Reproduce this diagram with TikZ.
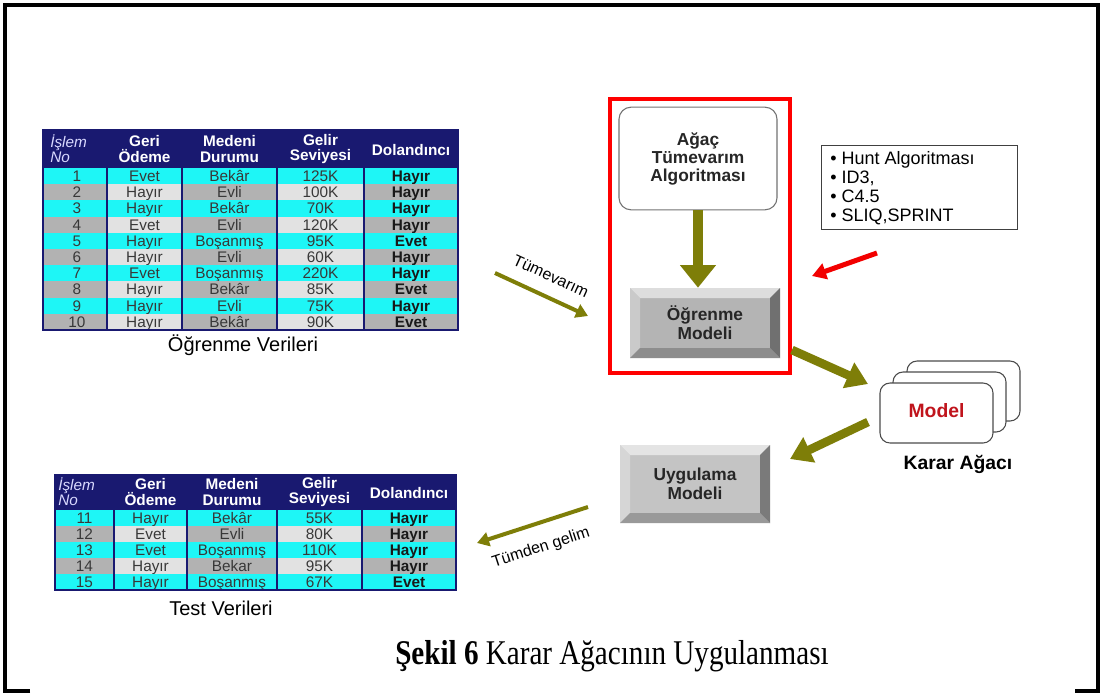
\documentclass[tikz,border=0pt]{standalone}
\usepackage{fontspec}
\usepackage{graphicx}
\setmainfont{Liberation Sans}
\newfontfamily\capfont{Liberation Serif}
\usetikzlibrary{arrows.meta}
\definecolor{hdr}{HTML}{191970}
\definecolor{cyn}{HTML}{1EF6F6}
\definecolor{dg}{HTML}{B2B2B2}
\definecolor{lg}{HTML}{E2E2E2}
\definecolor{olv}{HTML}{7E7E08}
\definecolor{ctext}{HTML}{383838}
\definecolor{mred}{HTML}{C0141C}
\definecolor{faceA}{HTML}{B4B4B4}
\definecolor{faceB}{HTML}{C4C4C4}
\tikzset{
  cell/.style={text=ctext, font=\fontsize{11.5}{12}\selectfont, inner sep=0pt, anchor=base},
  bcell/.style={text=black!90, font=\fontsize{11.5}{12}\bfseries\selectfont, inner sep=0pt, anchor=base},
  hcell/.style={text=white, font=\fontsize{11.5}{11.5}\bfseries\selectfont, align=center, inner sep=0pt},
  icell/.style={text=white!85!blue, font=\fontsize{11.5}{11.5}\itshape\selectfont, align=left, inner sep=0pt, anchor=west},
  grid/.style={draw=hdr, line width=0.8pt},
  bigarrow/.style={draw=olv, line width=6.5pt, -{Triangle[length=16pt,width=20pt]}},
  vertarrow/.style={draw=olv, line width=7pt, -{Triangle[length=17pt,width=26pt]}},
  thinarrow/.style={draw=olv, line width=3pt, -{Triangle[length=9pt,width=10.5pt]}},
  redarrow/.style={draw=red!95!black, line width=3.75pt, -{Triangle[length=10.5pt,width=12pt]}},
  btntext/.style={font=\fontsize{13}{14}\bfseries\selectfont, align=center, text=black!85, inner sep=0pt},
  card/.style={draw=black!70, fill=white, line width=0.8pt, rounded corners=7.5pt, minimum width=84.75pt, minimum height=45pt, inner sep=0pt},
  lbl/.style={font=\fontsize{15}{16}\selectfont, inner sep=0pt},
  arrlbl/.style={font=\fontsize{12}{13}\selectfont, inner sep=0pt}
}
\newcommand\bevbtn[8]{%
  \fill[#6] (#2,#3) rectangle (#4,#5);
  \fill[#6!45!white] (#2,#3) -- (#4,#3) -- ({#4-#7},{#3+#7}) -- ({#2+#7},{#3+#7}) -- cycle;
  \fill[#6!70!white] (#2,#3) -- ({#2+#7},{#3+#7}) -- ({#2+#7},{#5-#7}) -- (#2,#5) -- cycle;
  \fill[#6!62!black] (#4,#3) -- (#4,#5) -- ({#4-#7},{#5-#7}) -- ({#4-#7},{#3+#7}) -- cycle;
  \fill[#6!78!black] (#2,#5) -- (#4,#5) -- ({#4-#7},{#5-#7}) -- ({#2+#7},{#5-#7}) -- cycle;
  \node[btntext, minimum width={(#4-#2)*0.75pt}, minimum height={(#5-#3)*0.75pt}] (#1) at ({(#2+#4)/2},{(#3+#5)/2}) {#8};
}
\begin{document}
\begin{tikzpicture}[x=0.75pt,y=-0.75pt]
\useasboundingbox (0,0) rectangle (1104,697);
\fill[white] (0,0) rectangle (1104,697);
% frame
\draw[line width=2.3pt] (30,691) -- (5,691) -- (5,5) -- (1098,5) -- (1098,691) -- (1075,691);

% ---------- top table ----------
\fill[hdr] (43,130) rectangle (458,168);
\node[icell] (A-h1) at (50,149) {İşlem\\No};
\node[hcell] (A-h2) at (144.5,149) {Geri\\Ödeme};
\node[hcell] (A-h3) at (229.5,149) {Medeni\\Durumu};
\node[hcell] (A-h4) at (320.5,149) {Gelir\\Seviyesi};
\node[hcell] (A-h5) at (411,150) {Dolandıncı};
\foreach \n/\a/\b/\c/\d [count=\r] in {1/Evet/Bekâr/125K/Hayır, 2/Hayır/Evli/100K/Hayır, 3/Hayır/Bekâr/70K/Hayır, 4/Evet/Evli/120K/Hayır, 5/Hayır/Boşanmış/95K/Evet, 6/Hayır/Evli/60K/Hayır, 7/Evet/Boşanmış/220K/Hayır, 8/Hayır/Bekâr/85K/Evet, 9/Hayır/Evli/75K/Hayır, 10/Hayır/Bekâr/90K/Evet}{
  \pgfmathsetmacro\ya{168+(\r-1)*16.2}
  \pgfmathsetmacro\yb{\ya+16.2}
  \pgfmathsetmacro\ym{\ya+13.4}
  \ifodd\r
    \fill[cyn] (43,\ya) rectangle (458,\yb);
  \else
    \fill[dg] (43,\ya) rectangle (107,\yb);
    \fill[lg] (107,\ya) rectangle (182,\yb);
    \fill[dg] (182,\ya) rectangle (277,\yb);
    \fill[lg] (277,\ya) rectangle (364,\yb);
    \fill[dg] (364,\ya) rectangle (458,\yb);
  \fi
  \node[cell] (A-\r-1) at (77,\ym) {\n};
  \node[cell] (A-\r-2) at (144.5,\ym) {\a};
  \node[cell] (A-\r-3) at (229.5,\ym) {\b};
  \node[cell] (A-\r-4) at (320.5,\ym) {\c};
  \node[bcell] (A-\r-5) at (411,\ym) {\d};
}
\foreach \xx in {107,182,277,364}{\draw[grid] (\xx,130) -- (\xx,330);}
\draw[grid] (43,130) rectangle (458,330);
\node[lbl] (trainlbl) at (243,345) {Öğrenme Verileri};

% ---------- bottom table ----------
\fill[hdr] (55,475) rectangle (456,510);
\node[icell] (B-h1) at (58,492) {İşlem\\No};
\node[hcell] (B-h2) at (150.5,492) {Geri\\Ödeme};
\node[hcell] (B-h3) at (232,492) {Medeni\\Durumu};
\node[hcell] (B-h4) at (319.5,492) {Gelir\\Seviyesi};
\node[hcell] (B-h5) at (409,493) {Dolandıncı};
\foreach \n/\a/\b/\c/\d [count=\r] in {11/Hayır/Bekâr/55K/Hayır, 12/Evet/Evli/80K/Hayır, 13/Evet/Boşanmış/110K/Hayır, 14/Hayır/Bekar/95K/Hayır, 15/Hayır/Boşanmış/67K/Evet}{
  \pgfmathsetmacro\ya{510+(\r-1)*16}
  \pgfmathsetmacro\yb{\ya+16}
  \pgfmathsetmacro\ym{\ya+13.3}
  \ifodd\r
    \fill[cyn] (55,\ya) rectangle (456,\yb);
  \else
    \fill[dg] (55,\ya) rectangle (114,\yb);
    \fill[lg] (114,\ya) rectangle (187,\yb);
    \fill[dg] (187,\ya) rectangle (277,\yb);
    \fill[lg] (277,\ya) rectangle (362,\yb);
    \fill[dg] (362,\ya) rectangle (456,\yb);
  \fi
  \node[cell] (B-\r-1) at (84.5,\ym) {\n};
  \node[cell] (B-\r-2) at (150.5,\ym) {\a};
  \node[cell] (B-\r-3) at (232,\ym) {\b};
  \node[cell] (B-\r-4) at (319.5,\ym) {\c};
  \node[bcell] (B-\r-5) at (409,\ym) {\d};
}
\foreach \xx in {114,187,277,362}{\draw[grid] (\xx,475) -- (\xx,590);}
\draw[grid] (55,475) rectangle (456,590);
\node[lbl] (testlbl) at (221,608) {Test Verileri};

% ---------- red frame and its content ----------
\node[draw=red, line width=3pt, minimum width=135pt, minimum height=205.5pt, inner sep=0pt] (redbox) at (700,236) {};
\node[draw=black!55, fill=white, line width=0.8pt, rounded corners=9pt, minimum width=118.5pt, minimum height=77pt, inner sep=0pt, font=\fontsize{13}{13.5}\bfseries\selectfont, align=center, text=black!85] (agac) at (698,158.5) {Ağaç\\Tümevarım\\Algoritması};
\bevbtn{ogr}{630}{288}{780}{358}{faceA}{10}{Öğrenme\\Modeli}
\draw[vertarrow] (agac.south) -- (agac.south |- ogr.north);

% ---------- info box ----------
\node[draw=black!75, line width=0.7pt, minimum width=147pt, minimum height=63pt, inner sep=0pt] (info) at (919,187) {};
\node[anchor=north west, align=left, inner sep=0pt, font=\fontsize{13.5}{14.25}\selectfont] (infotext) at (830,151) {• Hunt Algoritması\\• ID3,\\• C4.5\\• SLIQ,SPRINT};
\coordinate (redS) at (877,253);
\coordinate (redE) at (812,276);
\draw[redarrow] (redS) -- (redE);

% ---------- model cards ----------
\node[card] (card3) at (963.5,391) {};
\node[card] (card2) at (949.5,402) {};
\node[card] (model) at (936.5,413) {};
\node[font=\fontsize{14.5}{15}\bfseries\selectfont, text=mred, inner sep=0pt] (modeltxt) at (936.5,411) {Model};
\node[font=\fontsize{14.5}{15}\bfseries\selectfont, inner sep=0pt] (karar) at (958,464) {Karar Ağacı};

% ---------- Uygulama ----------
\bevbtn{uyg}{620}{445}{770}{523}{faceB}{10}{Uygulama\\Modeli}

% ---------- arrows ----------
\coordinate (a1s) at (792,350);
\coordinate (a1e) at (868,384);
\draw[bigarrow] (a1s) -- (a1e);
\coordinate (a2s) at (868,422);
\coordinate (a2e) at (790,459);
\draw[bigarrow] (a2s) -- (a2e);

\coordinate (tvS) at (495,273);
\coordinate (tvE) at (588,316);
\draw[thinarrow] (tvS) -- (tvE);
\node[arrlbl, rotate=-24.5] (tvlbl) at (551,276) {Tümevarım};

\coordinate (tgS) at (588,507);
\coordinate (tgE) at (477,543);
\draw[thinarrow] (tgS) -- (tgE);
\node[arrlbl, rotate=18] (tglbl) at (541,548) {Tümden gelim};

% ---------- caption ----------
\node[font=\capfont\fontsize{26}{28}\selectfont, inner sep=0pt] (cap) at (612,656) {\scalebox{0.84}[1]{\textbf{Şekil 6} Karar Ağacının Uygulanması}};
\end{tikzpicture}
\end{document}
